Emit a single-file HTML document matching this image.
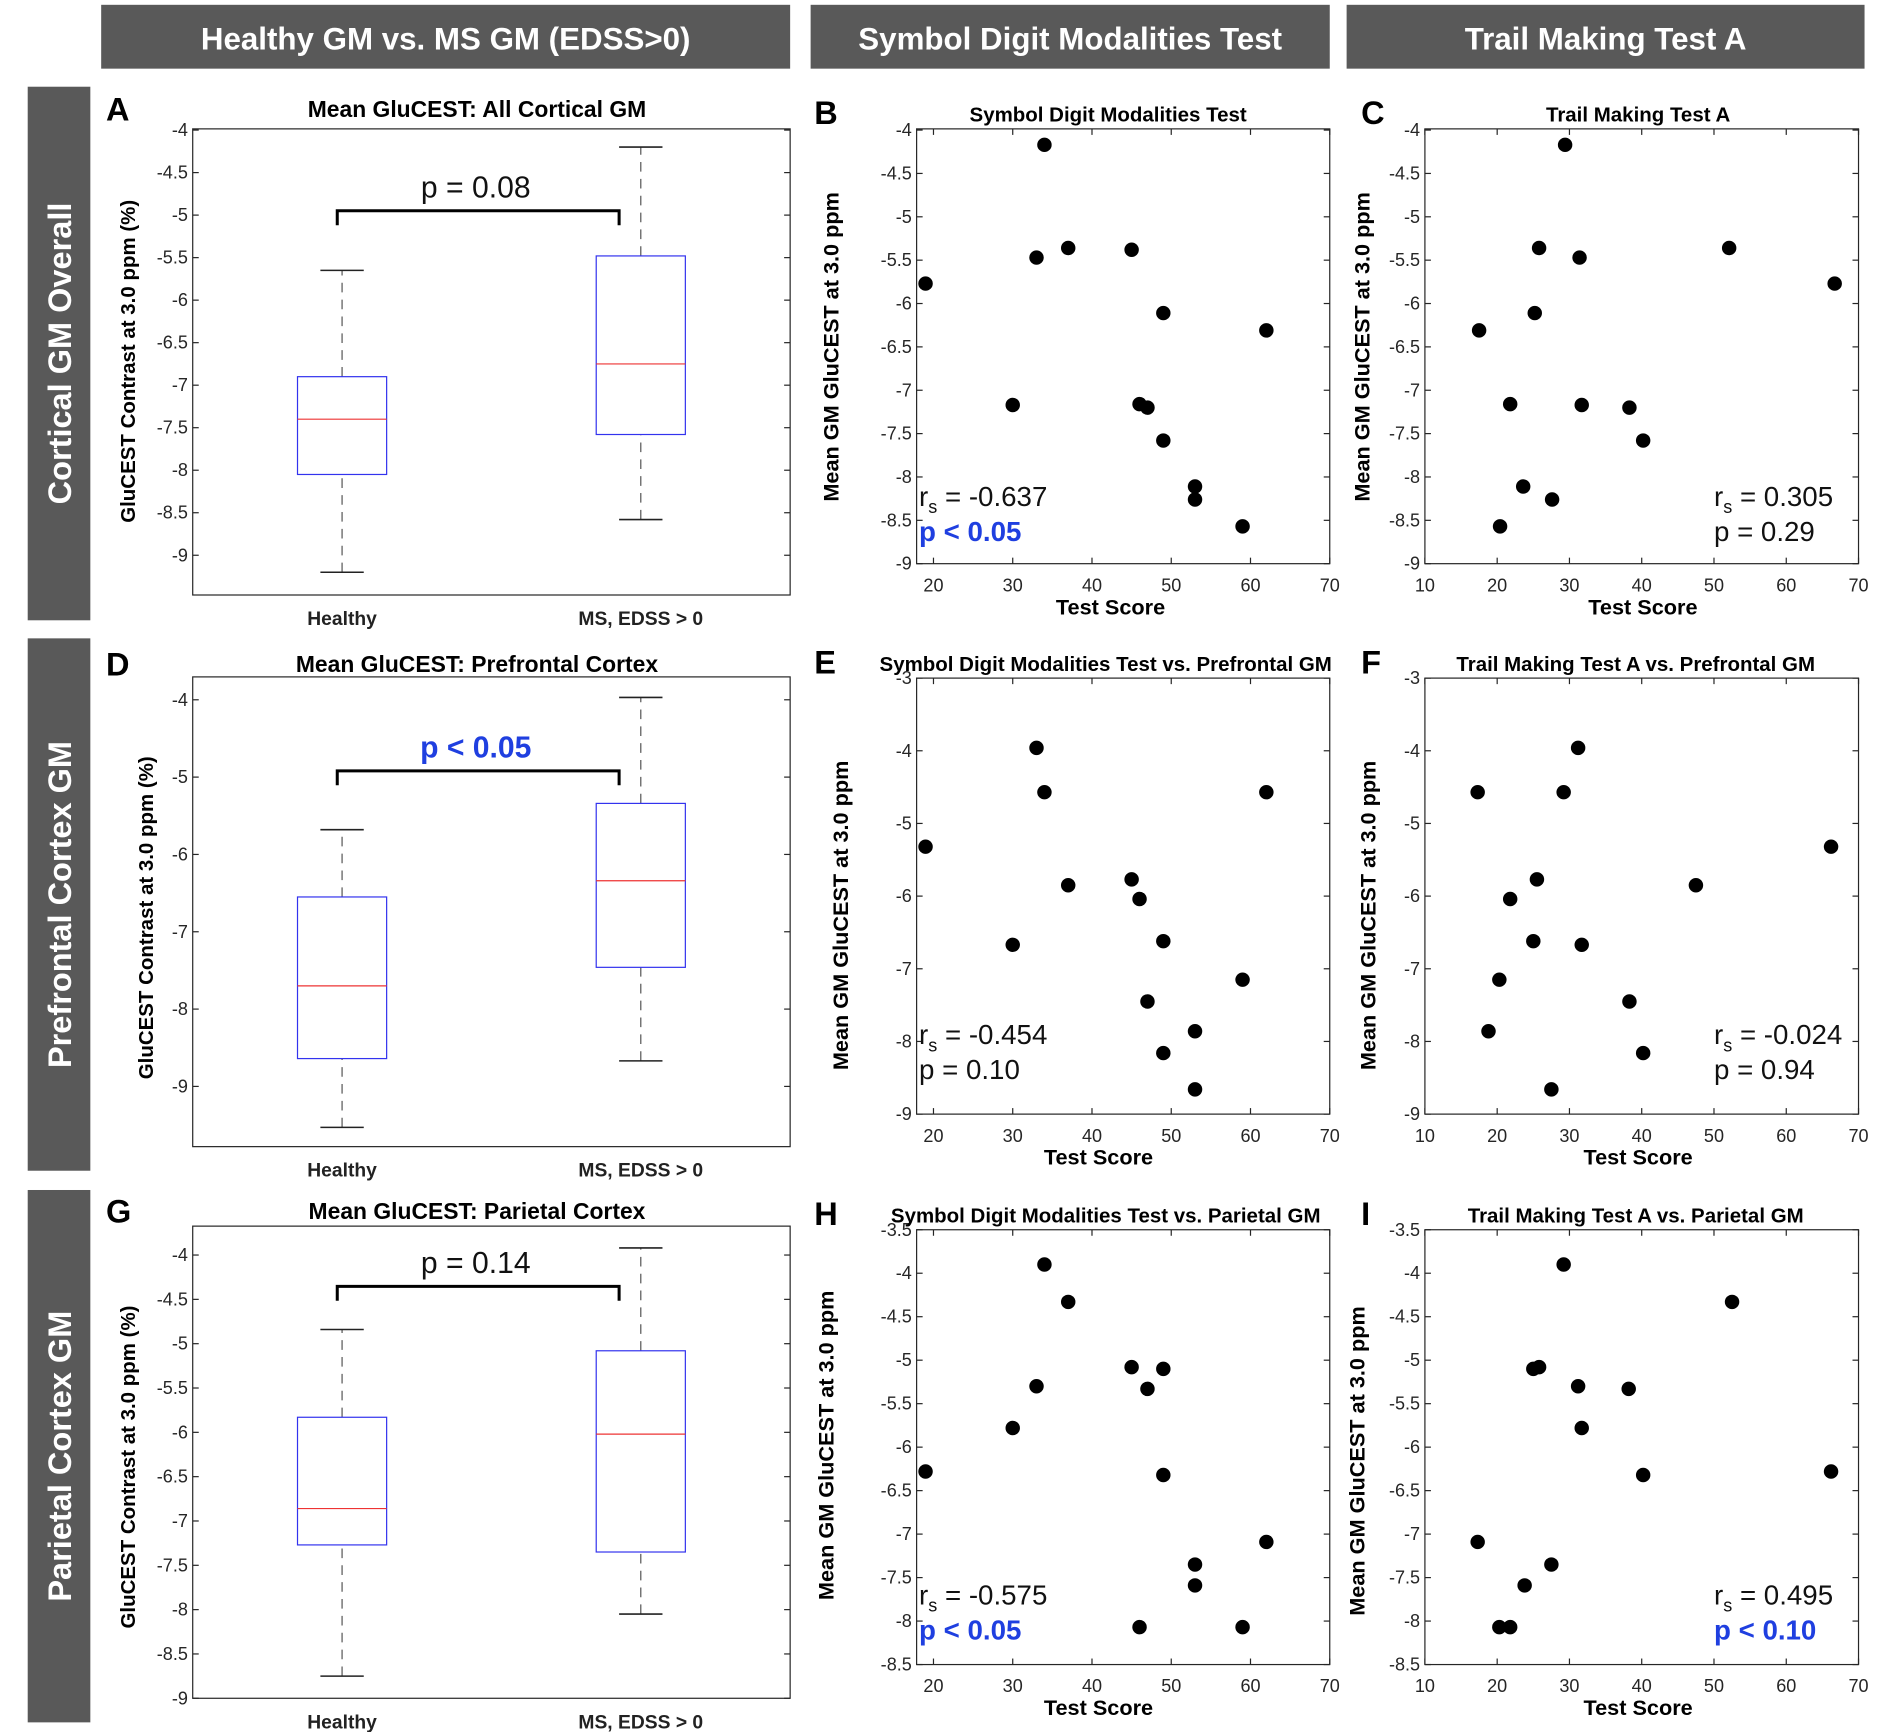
<!DOCTYPE html>
<html><head><meta charset="utf-8"><style>
html,body{margin:0;padding:0;background:#fff}
svg{display:block}
text{font-family:"Liberation Sans",Arial,sans-serif}
</style></head><body>
<svg id="fig" width="1879" height="1732" viewBox="0 0 1560 1438" preserveAspectRatio="none" xmlns="http://www.w3.org/2000/svg"></svg>
<script>
// ---- data ----
const boxCategories = ["Healthy", "MS, EDSS > 0"];
// [low whisker, q1, median, q3, high whisker]
const boxA_healthy = [-9.2, -8.05, -7.4, -6.9, -5.65];
const boxA_ms = [-8.58, -7.58, -6.75, -5.48, -4.2];
const boxD_healthy = [-9.53, -8.64, -7.70, -6.55, -5.68];
const boxD_ms = [-8.67, -7.46, -6.34, -5.34, -3.97];
const boxG_healthy = [-8.75, -7.27, -6.86, -5.83, -4.84];
const boxG_ms = [-8.05, -7.35, -6.02, -5.08, -3.92];

const sdmtB = [19, 34, 33, 37, 45, 49, 62, 30, 46, 47, 49, 53, 53, 59];
const gluB = [-5.77, -4.17, -5.47, -5.36, -5.38, -6.11, -6.31, -7.17, -7.16, -7.20, -7.58, -8.11, -8.26, -8.57];
const tmtC = [29.4, 25.8, 31.4, 52.1, 66.7, 25.2, 17.5, 21.8, 31.7, 38.3, 40.2, 23.6, 27.6, 20.4];
const gluC = [-4.17, -5.36, -5.47, -5.36, -5.77, -6.11, -6.31, -7.16, -7.17, -7.20, -7.58, -8.11, -8.26, -8.57];
const sdmtE = [19, 33, 34, 37, 45, 46, 49, 59, 30, 47, 53, 49, 53, 62];
const gluE = [-5.32, -3.96, -4.57, -5.85, -5.77, -6.04, -6.62, -7.15, -6.67, -7.45, -7.86, -8.16, -8.66, -4.57];
const tmtF = [17.3, 31.2, 29.2, 21.8, 25.5, 25.0, 31.7, 20.3, 18.8, 38.3, 40.2, 27.5, 66.2, 47.5];
const gluF = [-4.57, -3.96, -4.57, -6.04, -5.77, -6.62, -6.67, -7.15, -7.86, -7.45, -8.16, -8.66, -5.32, -5.85];
const sdmtH = [19, 34, 37, 33, 30, 45, 47, 49, 49, 62, 53, 53, 46, 59];
const gluH = [-6.28, -3.90, -4.33, -5.30, -5.78, -5.08, -5.33, -5.10, -6.32, -7.09, -7.35, -7.59, -8.07, -8.07];
const tmtI = [29.2, 52.5, 25.0, 25.8, 31.2, 38.2, 31.7, 40.2, 66.2, 17.3, 27.5, 23.8, 20.3, 21.8];
const gluI = [-3.90, -4.33, -5.10, -5.08, -5.30, -5.33, -5.78, -6.32, -6.28, -7.09, -7.35, -7.59, -8.07, -8.07];

const ticksY05 = ["-4","-4.5","-5","-5.5","-6","-6.5","-7","-7.5","-8","-8.5","-9"];
const ticksY1 = ["-3","-4","-5","-6","-7","-8","-9"];
const ticksY1b = ["-4","-5","-6","-7","-8","-9"];
const ticksYH = ["-3.5","-4","-4.5","-5","-5.5","-6","-6.5","-7","-7.5","-8","-8.5"];
const ticksXsdmt = ["20","30","40","50","60","70"];
const ticksXtmt = ["10","20","30","40","50","60","70"];

// ---- drawing ----
const NS="http://www.w3.org/2000/svg";
const svg=document.getElementById('fig');
function el(tag,attrs,parent,txt){const e=document.createElementNS(NS,tag);for(const k in attrs)e.setAttribute(k,attrs[k]);if(txt!==undefined)e.textContent=txt;(parent||svg).appendChild(e);return e;}
function lin(v0,p0,v1,p1){return v=>p0+(v-v0)*(p1-p0)/(v1-v0);}

// headers
const headers=[[84,656,"Healthy GM vs. MS GM (EDSS>0)"],[673,1104,"Symbol Digit Modalities Test"],[1118,1548,"Trail Making Test A"]];
headers.forEach((h,i)=>{
  const g=el('g',{});
  
  
  el('rect',{x:h[0],y:4,width:h[1]-h[0],height:53,fill:'#595959'},g);
  el('text',{x:(h[0]+h[1])/2,y:41,'text-anchor':'middle',fill:'#fff','font-size':26,'font-weight':'bold'},g,h[2]);
});
const sides=[[72,515,"Cortical GM Overall"],[530,972,"Prefrontal Cortex GM"],[988,1430,"Parietal Cortex GM"]];
sides.forEach((s,i)=>{
  const g=el('g',{});
  
  
  el('rect',{x:23,y:s[0],width:52,height:s[1]-s[0],fill:'#595959'},g);
  const cy=(s[0]+s[1])/2;
  el('text',{x:59,y:cy,'text-anchor':'middle',fill:'#fff','font-size':27,'font-weight':'bold',transform:`rotate(-90 59 ${cy})`},g,s[2]);
});

function axesFrame(g,x0,x1,y0,y1,ys,yt,xs,xt){
  el('rect',{x:x0,y:y0,width:x1-x0,height:y1-y0,fill:'none',stroke:'#262626','stroke-width':1},g);
  yt.forEach(t=>{const y=ys(parseFloat(t));
    el('line',{x1:x0,x2:x0+5,y1:y,y2:y,stroke:'#262626'},g);
    el('line',{x1:x1,x2:x1-5,y1:y,y2:y,stroke:'#262626'},g);
    const tx=el('text',{x:x0-4,y:y+5,'text-anchor':'end','font-size':15,fill:'#262626'},g,t);
    
    
  });
  if(xt){xt.forEach(t=>{const x=xs(parseFloat(t));
    el('line',{x1:x,x2:x,y1:y1,y2:y1-5,stroke:'#262626'},g);
    el('line',{x1:x,x2:x,y1:y0,y2:y0+5,stroke:'#262626'},g);
    const tx=el('text',{x:x,y:y1+23,'text-anchor':'middle','font-size':15,fill:'#262626'},g,t);
    
    
  });}
}
function letter(x,y,L){const t=el('text',{x:x,y:y,'font-size':27,'font-weight':'bold'},svg,L);
  
  }
function title(g,cx,y,s,fs){const t=el('text',{x:cx,y:y,'text-anchor':'middle','font-size':fs||18,'font-weight':'bold'},g,s);
  
  }
function ylab(g,x,cy,s,fs){const t=el('text',{x:x,y:cy,'text-anchor':'middle','font-size':fs||18,'font-weight':'bold',transform:`rotate(-90 ${x} ${cy})`},g,s);
  
  }

function boxPanel(name,L,cfg,healthy,ms,pText,pBlue){
  const g=el('g',{});
  
  
  const ys=lin(cfg.ya[0],cfg.ya[1],cfg.ya[2],cfg.ya[3]);
  const xs=lin(0.5,cfg.x0,2.5,cfg.x1);
  axesFrame(g,cfg.x0,cfg.x1,cfg.y0,cfg.y1,ys,cfg.yt,null,null);
  [healthy,ms].forEach((d,i)=>{
    const cx=xs(i+1),hw=37;
    const b=el('g',{},g);
    
    
    el('line',{x1:cx,x2:cx,y1:ys(d[0]),y2:ys(d[1]),stroke:'#555','stroke-dasharray':'8,6'},b);
    el('line',{x1:cx,x2:cx,y1:ys(d[3]),y2:ys(d[4]),stroke:'#555','stroke-dasharray':'8,6'},b);
    el('line',{x1:cx-18,x2:cx+18,y1:ys(d[0]),y2:ys(d[0]),stroke:'#222','stroke-width':1.3},b);
    el('line',{x1:cx-18,x2:cx+18,y1:ys(d[4]),y2:ys(d[4]),stroke:'#222','stroke-width':1.3},b);
    el('rect',{x:cx-hw,y:ys(d[3]),width:2*hw,height:ys(d[1])-ys(d[3]),fill:'none',stroke:'#3333ee','stroke-width':1},b);
    el('line',{x1:cx-hw,x2:cx+hw,y1:ys(d[2]),y2:ys(d[2]),stroke:'#ee3333','stroke-width':1},b);
    const t=el('text',{x:cx,y:cfg.y1+25,'text-anchor':'middle','font-size':16,'font-weight':'bold',fill:'#222'},g,boxCategories[i]);
    
    
  });
  const br=el('path',{d:`M280 ${cfg.by+12} V${cfg.by} H514 V${cfg.by+12}`,fill:'none',stroke:'#000','stroke-width':2.5},g);
  
  
  const pt=el('text',{x:395,y:cfg.by-11,'text-anchor':'middle','font-size':25,fill:pBlue?'#1f3fe0':'#111','font-weight':pBlue?'bold':'normal'},g,pText);
  
  
  title(g,396,cfg.ty,cfg.title,19);
  ylab(g,cfg.lx,cfg.lcy,"GluCEST Contrast at 3.0 ppm (%)",17);
  letter(88,cfg.ty+3,L);
}

function scatterPanel(name,L,cfg,xv,yv,rText,pText,pBlue){
  const g=el('g',{});
  
  
  const xs=lin(cfg.xa[0],cfg.xa[1],cfg.xa[2],cfg.xa[3]);
  const ys=lin(cfg.ya[0],cfg.ya[1],cfg.ya[2],cfg.ya[3]);
  axesFrame(g,cfg.x0,cfg.x1,cfg.y0,cfg.y1,ys,cfg.yt,xs,cfg.xt);
  xv.forEach((v,i)=>{
    const c=el('circle',{cx:xs(v),cy:ys(yv[i]),r:6,fill:'#000'},g);
    
    
  });
  title(g,cfg.tcx,cfg.ty,cfg.title,17);
  const xl=el('text',{x:cfg.xlx,y:cfg.y1+42,'text-anchor':'middle','font-size':18,'font-weight':'bold'},g,"Test Score");
  
  
  ylab(g,cfg.lx,cfg.lcy,"Mean GM GluCEST at 3.0 ppm",18);
  const r=el('text',{x:cfg.sx,y:cfg.sy,'font-size':23,fill:'#111'},g);
  
  
  el('tspan',{},r,'r');
  el('tspan',{'font-size':15,dy:6},r,'s');
  el('tspan',{dy:-6},r,' = '+rText);
  const p=el('text',{x:cfg.sx,y:cfg.sy+29,'font-size':23,fill:pBlue?'#1f3fe0':'#111','font-weight':pBlue?'bold':'normal'},g,pText);
  
  
  letter(cfg.lx0,cfg.ty+2,L);
}

boxPanel('panel-a-boxplot','A',{x0:160,x1:656,y0:107,y1:494,ya:[-4,108,-9,461],yt:ticksY05,by:175,ty:97,title:"Mean GluCEST: All Cortical GM",lx:112,lcy:300},boxA_healthy,boxA_ms,"p = 0.08",false);
boxPanel('panel-d-boxplot','D',{x0:160,x1:656,y0:562,y1:952,ya:[-4,581,-9,902],yt:ticksY1b,by:640,ty:558,title:"Mean GluCEST: Prefrontal Cortex",lx:127,lcy:762},boxD_healthy,boxD_ms,"p < 0.05",true);
boxPanel('panel-g-boxplot','G',{x0:160,x1:656,y0:1018,y1:1410,ya:[-4,1042,-9,1410],yt:ticksY05,by:1068,ty:1012,title:"Mean GluCEST: Parietal Cortex",lx:112,lcy:1218},boxG_healthy,boxG_ms,"p = 0.14",false);

const sdX=[20,775,70,1104], tmX=[10,1183,70,1543];
scatterPanel('panel-b-scatter','B',{x0:761,x1:1104,y0:107,y1:468,xa:sdX,ya:[-4,108,-9,468],yt:ticksY05,xt:ticksXsdmt,tcx:920,ty:101,title:"Symbol Digit Modalities Test",xlx:922,lx:696,lcy:288,sx:763,sy:420,lx0:676},sdmtB,gluB,"-0.637","p < 0.05",true);
scatterPanel('panel-c-scatter','C',{x0:1183,x1:1543,y0:107,y1:468,xa:tmX,ya:[-4,108,-9,468],yt:ticksY05,xt:ticksXtmt,tcx:1360,ty:101,title:"Trail Making Test A",xlx:1364,lx:1137,lcy:288,sx:1423,sy:420,lx0:1130},tmtC,gluC,"0.305","p = 0.29",false);
scatterPanel('panel-e-scatter','E',{x0:761,x1:1104,y0:563,y1:925,xa:sdX,ya:[-3,563,-9,925],yt:ticksY1,xt:ticksXsdmt,tcx:918,ty:557,title:"Symbol Digit Modalities Test vs. Prefrontal GM",xlx:912,lx:704,lcy:760,sx:763,sy:867,lx0:676},sdmtE,gluE,"-0.454","p = 0.10",false);
scatterPanel('panel-f-scatter','F',{x0:1183,x1:1543,y0:563,y1:925,xa:tmX,ya:[-3,563,-9,925],yt:ticksY1,xt:ticksXtmt,tcx:1358,ty:557,title:"Trail Making Test A vs. Prefrontal GM",xlx:1360,lx:1142,lcy:760,sx:1423,sy:867,lx0:1130},tmtF,gluF,"-0.024","p = 0.94",false);
scatterPanel('panel-h-scatter','H',{x0:761,x1:1104,y0:1021,y1:1382,xa:sdX,ya:[-3.5,1021,-8.5,1382],yt:ticksYH,xt:ticksXsdmt,tcx:918,ty:1015,title:"Symbol Digit Modalities Test vs. Parietal GM",xlx:912,lx:692,lcy:1200,sx:763,sy:1332,lx0:676},sdmtH,gluH,"-0.575","p < 0.05",true);
scatterPanel('panel-i-scatter','I',{x0:1183,x1:1543,y0:1021,y1:1382,xa:tmX,ya:[-3.5,1021,-8.5,1382],yt:ticksYH,xt:ticksXtmt,tcx:1358,ty:1015,title:"Trail Making Test A vs. Parietal GM",xlx:1360,lx:1133,lcy:1213,sx:1423,sy:1332,lx0:1130},tmtI,gluI,"0.495","p < 0.10",true);
</script>
</body></html>
